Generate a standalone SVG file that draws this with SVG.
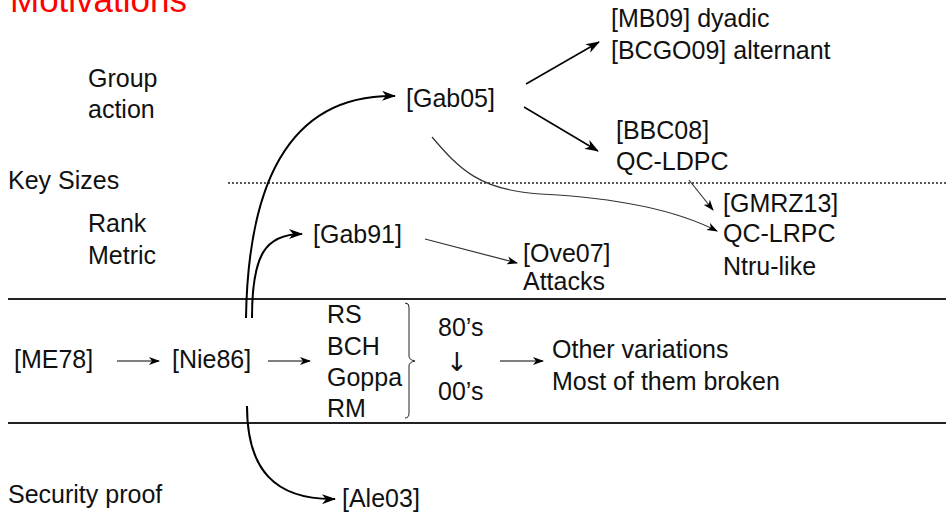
<svg xmlns="http://www.w3.org/2000/svg" width="946" height="513" viewBox="0 0 946 513">
  <style>
    text { font-family: "Liberation Sans", Arial, sans-serif; font-size: 25px; fill: #111; }
    .title { font-size: 35px; fill: #ff0000; }
    .sym { font-family: "DejaVu Sans", sans-serif; font-size: 26px; }
    .rule { stroke: #222; stroke-width: 2; fill: none; }
    .dots { stroke: #222; stroke-width: 1.6; stroke-dasharray: 2 2; fill: none; }
    .thick { stroke: #000; stroke-width: 2; fill: none; marker-end: url(#stealth); }
    .mid { stroke: #000; stroke-width: 1.5; fill: none; marker-end: url(#stealth); }
    .thin { stroke: #000; stroke-width: 1.2; fill: none; marker-end: url(#tip); }
    .soft { stroke: #333; stroke-width: 1.2; fill: none; marker-end: url(#tip); }
    .brace { stroke: #222; stroke-width: 1; fill: none; }
  </style>
  <defs>
    <marker id="stealth" viewBox="0 0 14 10" refX="13" refY="5" markerWidth="14" markerHeight="10" markerUnits="userSpaceOnUse" orient="auto">
      <path d="M0,0 L14,5 L0,10 L4,5 z" fill="#000"/>
    </marker>
    <marker id="tip" viewBox="0 0 11 8" refX="10" refY="4" markerWidth="11" markerHeight="8" markerUnits="userSpaceOnUse" orient="auto">
      <path d="M0,0 L11,4 L0,8 L3,4 z" fill="#000"/>
    </marker>
  </defs>

  <text class="title" x="10" y="12">Motivations</text>

  <!-- band separators -->
  <g id="separators">
    <line class="dots" x1="228" y1="183" x2="946" y2="183"/>
    <line class="rule" x1="8" y1="299" x2="946" y2="299"/>
    <line class="rule" x1="8" y1="423" x2="946" y2="423"/>
  </g>

  <!-- row labels -->
  <g id="label-group-action">
    <text x="88" y="87">Group</text>
    <text x="88" y="118">action</text>
  </g>
  <g id="label-key-sizes"><text x="8" y="189">Key Sizes</text></g>
  <g id="label-rank-metric">
    <text x="88" y="232">Rank</text>
    <text x="88" y="264">Metric</text>
  </g>
  <g id="label-security"><text x="8" y="503">Security proof</text></g>

  <!-- nodes -->
  <g id="mb09">
    <text x="611" y="27">[MB09] dyadic</text>
    <text x="611" y="59">[BCGO09] alternant</text>
  </g>
  <g id="gab05"><text x="406" y="107">[Gab05]</text></g>
  <g id="bbc08">
    <text x="616" y="139">[BBC08]</text>
    <text x="616" y="170">QC-LDPC</text>
  </g>
  <g id="gmrz13">
    <text x="723" y="212">[GMRZ13]</text>
    <text x="723" y="242">QC-LRPC</text>
    <text x="723" y="275">Ntru-like</text>
  </g>
  <g id="gab91"><text x="313" y="243">[Gab91]</text></g>
  <g id="ove07">
    <text x="523" y="262">[Ove07]</text>
    <text x="523" y="290">Attacks</text>
  </g>
  <g id="me78"><text x="14" y="368">[ME78]</text></g>
  <g id="nie86"><text x="172" y="368">[Nie86]</text></g>
  <g id="codes">
    <text x="327" y="323">RS</text>
    <text x="327" y="355">BCH</text>
    <text x="327" y="386">Goppa</text>
    <text x="327" y="417">RM</text>
    <path class="brace" d="M405,303 Q409,303 409,307 L409,356 Q409,360 415,361 Q409,362 409,366 L409,413 Q409,418 405,418"/>
  </g>
  <g id="decades">
    <text x="438" y="336">80’s</text>
    <text class="sym" x="457" y="371" text-anchor="middle">↓</text>
    <text x="438" y="400">00’s</text>
  </g>
  <g id="variations">
    <text x="552" y="358">Other variations</text>
    <text x="552" y="390">Most of them broken</text>
  </g>
  <g id="ale03"><text x="342" y="507">[Ale03]</text></g>

  <!-- connectors -->
  <g id="connectors">
    <path class="thick" d="M246,318 C248,190 285,94 395,96"/>
    <path class="thick" d="M252,318 C252,255 265,234 302,234"/>
    <path class="thick" d="M247,406 C247,470 275,500 335,499"/>
    <path class="mid" d="M526,84 L599,42"/>
    <path class="mid" d="M524,107 L598,151"/>
    <path class="soft" d="M432,137 C460,170 480,190 540,194 C620,198 680,212 717,231"/>
    <path class="soft" d="M689,180 L713,210"/>
    <path class="soft" d="M425,239 L517,263"/>
    <path class="thin" d="M117,361 L159,361"/>
    <path class="thin" d="M268,361 L310,361"/>
    <path class="thin" d="M500,361 L543,361"/>
  </g>
</svg>
